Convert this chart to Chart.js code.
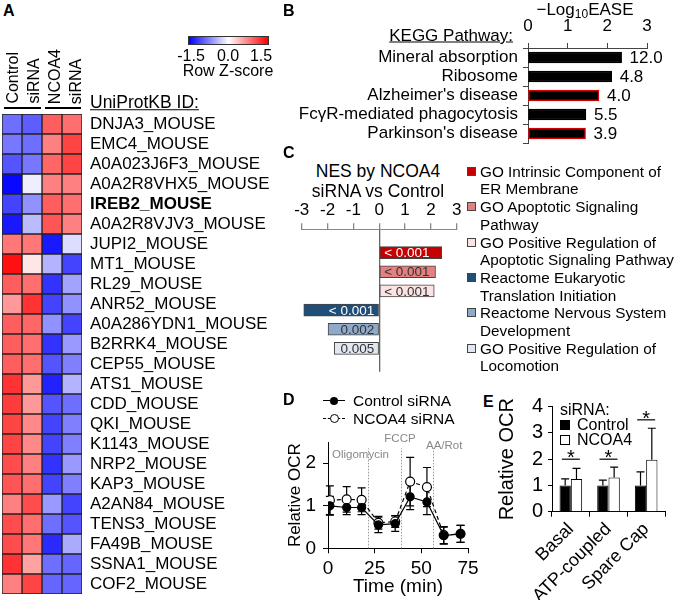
<!DOCTYPE html>
<html>
<head>
<meta charset="utf-8">
<script src="https://cdn.jsdelivr.net/npm/chart.js@4.4.0/dist/chart.umd.min.js"></script>
<style>
    html, body { margin: 0; padding: 0; background: #fff; }
    #fig { position: relative; width: 677px; height: 600px; overflow: hidden; font-family: 'Liberation Sans', Arial, sans-serif; color: #000; }
    #fig canvas { position: absolute; }
    .lbl { position: absolute; white-space: nowrap; line-height: 1; }
    .vert { position: absolute; writing-mode: vertical-rl; transform: rotate(180deg); white-space: nowrap; font-size: 16px; line-height: 21px; }
    .panel { font-weight: bold; font-size: 16px; }
    .line { position: absolute; background: #000; }
    .sq { position: absolute; width: 9px; height: 9px; border: 1px solid #444; box-sizing: border-box; }
</style>
</head>
<body>
<div id="fig">
    <canvas id="heat" width="280" height="500" style="left:0;top:100px"></canvas>
    <canvas id="kegg" width="387" height="150" style="left:290px;top:0"></canvas>
    <canvas id="nes" width="180" height="185" style="left:285px;top:195px"></canvas>
    <canvas id="ocr" width="195" height="175" style="left:285px;top:425px"></canvas>
    <canvas id="param" width="182" height="205" style="left:495px;top:395px"></canvas>
</div>
<script>
// ---- A: heatmap (row z-scores) ----
var proteins = ['DNJA3_MOUSE', 'EMC4_MOUSE', 'A0A023J6F3_MOUSE', 'A0A2R8VHX5_MOUSE', 'IREB2_MOUSE', 'A0A2R8VJV3_MOUSE',
    'JUPI2_MOUSE', 'MT1_MOUSE', 'RL29_MOUSE', 'ANR52_MOUSE', 'A0A286YDN1_MOUSE', 'B2RRK4_MOUSE', 'CEP55_MOUSE',
    'ATS1_MOUSE', 'CDD_MOUSE', 'QKI_MOUSE', 'K1143_MOUSE', 'NRP2_MOUSE', 'KAP3_MOUSE', 'A2AN84_MOUSE',
    'TENS3_MOUSE', 'FA49B_MOUSE', 'SSNA1_MOUSE', 'COF2_MOUSE'];
var zControlA = [-0.85, -0.8, -1.0, -1.45, -1.1, -1.35, 0.8, 1.4, 0.95, 0.6, 0.95, 0.95, 0.95, 1.2, 1.15, 1.1, 1.1, 1.05, 1.0, 0.75, 1.05, 1.05, 1.2, 0.75];
var zControlB = [-0.95, -0.85, -0.8, -0.1, -0.65, -0.4, 0.8, 0.15, 0.85, 1.2, 0.9, 0.85, 0.85, 0.6, 0.6, 0.7, 0.7, 0.75, 0.85, 1.05, 0.85, 0.8, 0.55, 1.1];
var zNcoa4A = [0.95, 0.75, 0.9, 0.75, 0.95, 1.0, -1.35, -0.45, -1.2, -1.1, -0.65, -1.2, -1.0, -1.3, -1.0, -1.1, -1.1, -1.2, -1.1, -0.6, -0.85, -1.25, -0.85, -0.9];
var zNcoa4B = [0.85, 1.1, 1.1, 0.75, 0.85, 0.75, -0.2, -1.1, -0.55, -0.65, -1.1, -0.6, -0.75, -0.45, -0.85, -0.75, -0.75, -0.6, -0.75, -1.1, -1.0, -0.5, -0.9, -0.9];
var boldProtein = 'IREB2_MOUSE';

// ---- B: KEGG pathways ----
var keggPathways = ['Mineral absorption', 'Ribosome', "Alzheimer's disease", 'FcγR-mediated phagocytosis', "Parkinson's disease"];
var keggLogEase = [2.36, 2.11, 1.79, 1.46, 1.45];
var keggFold = [12.0, 4.8, 4.0, 5.5, 3.9];
var keggOutlined = [false, false, true, false, true];

// ---- C: GSEA NES ----
var nesSetLines = [['GO Intrinsic Component of', 'ER Membrane'], ['GO Apoptotic Signaling', 'Pathway'],
    ['GO Positive Regulation of', 'Apoptotic Signaling Pathway'], ['Reactome Eukaryotic', 'Translation Initiation'],
    ['Reactome Nervous System', 'Development'], ['GO Positive Regulation of', 'Locomotion']];
var nesValues = [2.42, 2.18, 2.13, -2.92, -1.98, -1.74];
var nesFdr = ['< 0.001', '< 0.001', '< 0.001', '< 0.001', '0.002', '0.005'];
var nesColors = ['#c40000', '#e38080', '#fbe3e3', '#1f4e79', '#8fa9c9', '#e1e7f0'];
var nesTextColors = ['#fff', '#333', '#333', '#fff', '#333', '#333'];

// ---- D: OCR time course ----
var ocrTimes = [1, 10, 18, 27, 36, 44, 53, 62, 71];
var ocrControl = [1.0, 0.96, 0.96, 0.55, 0.58, 1.21, 1.09, 0.3, 0.34];
var ocrControlSd = [0.22, 0.17, 0.17, 0.18, 0.18, 0.3, 0.3, 0.2, 0.2];
var ocrNcoa4 = [1.13, 1.15, 1.14, 0.6, 0.63, 1.57, 1.44, 0.31, 0.34];
var ocrNcoa4Sd = [0.34, 0.3, 0.28, 0.15, 0.14, 0.57, 0.46, 0.2, 0.2];
var ocrYTicks = [0, 1, 2];
var injectTimes = [21.5, 39, 56.5];
var injectTop = 2.35;

// ---- E: OCR parameters ----
var ocrParams = ['Basal', 'ATP-coupled', 'Spare Cap'];
var paramControl = [1, 1, 1];
var paramControlSd = [0.25, 0.2, 0.52];
var paramNcoa4 = [1.25, 1.3, 1.98];
var paramNcoa4Sd = [0.4, 0.4, 1.2];
var sigLevel = [2.0, 2.0, 3.5];

Chart.defaults.font.family = "'Liberation Sans', Arial, sans-serif";
Chart.defaults.color = '#000';
Chart.defaults.animation = false;
Chart.defaults.responsive = false;
Chart.defaults.devicePixelRatio = 1;
Chart.defaults.plugins.legend.display = false;
Chart.defaults.plugins.tooltip.enabled = false;

// Fix an axis' thickness so the plot areas line up with the figure.
function fitAxis(size) {
    return function (scale) {
        if (scale.isHorizontal()) scale.height = size; else scale.width = size;
        scale.paddingTop = scale.paddingBottom = scale.paddingLeft = scale.paddingRight = 0;
    };
}

function zColor(z) {
    var t = Math.min(1, Math.abs(z) / 1.5);
    var c = Math.round(255 * (1 - t));
    return z < 0 ? `rgb(${c},${c},255)` : `rgb(255,${c},${c})`;
}

var fig = document.getElementById('fig');
function txt(html, x, y, o) {
    o = o || {};
    var d = document.createElement('div');
    d.className = 'lbl' + (o.cls ? ' ' + o.cls : '');
    d.innerHTML = html;
    d.style.left = x + 'px';
    d.style.top = y + 'px';
    if (!o.cls) d.style.fontSize = (o.size || 17) + 'px';
    if (o.color) d.style.color = o.color;
    if (o.underline) d.style.textDecoration = 'underline';
    var ax = o.align === 'right' ? '-100%' : o.align === 'center' ? '-50%' : '0';
    d.style.transform = `translate(${ax}, -50%)`;
    fig.appendChild(d);
    return d;
}
function box(cls, x, y, w, h, extra) {
    var d = document.createElement('div');
    d.className = cls;
    d.style.left = x + 'px';
    d.style.top = y + 'px';
    if (w != null) d.style.width = w + 'px';
    if (h != null) d.style.height = h + 'px';
    if (extra) Object.assign(d.style, extra);
    fig.appendChild(d);
    return d;
}

// Panel letters
txt('A', 3, 11, { cls: 'panel' });
txt('B', 283, 11, { cls: 'panel' });
txt('C', 283, 153, { cls: 'panel' });
txt('D', 283, 400, { cls: 'panel' });
txt('E', 483, 402, { cls: 'panel' });

// ---- A ----
var headers = ['Control<br>siRNA', 'NCOA4<br>siRNA'];
[2, 44].forEach(function (x, i) {
    var d = document.createElement('div');
    d.className = 'vert';
    d.innerHTML = headers[i];
    d.style.left = x + 'px';
    d.style.bottom = (600 - 104) + 'px';
    fig.appendChild(d);
});
box('line', 4, 107, 37, 1.5);
box('line', 45, 107, 36, 1.5);
box('line', 188, 36, 81, 9, { background: 'linear-gradient(to right, #0000ff, #ffffff, #ff0000)', border: '1px solid #333', boxSizing: 'border-box' });
txt('-1.5', 191, 56, { align: 'center', size: 16 });
txt('0.0', 228, 56, { align: 'center', size: 16 });
txt('1.5', 261, 56, { align: 'center', size: 16 });
txt('Row Z-score', 228, 71, { align: 'center', size: 16 });
txt('UniProtKB ID:', 90, 103, { size: 17.5, underline: true });

new Chart(document.getElementById('heat'), {
    type: 'bar',
    data: {
        labels: proteins,
        datasets: [zControlA, zControlB, zNcoa4A, zNcoa4B].map(function (z) {
            return {
                data: z.map(function () { return 1; }),
                backgroundColor: z.map(zColor),
                borderColor: '#222',
                borderWidth: 1,
                borderSkipped: false,
                barPercentage: 1,
                categoryPercentage: 1
            };
        })
    },
    options: {
        indexAxis: 'y',
        layout: { padding: { left: 2, top: 14, bottom: 6, right: 0 } },
        scales: {
            x: { stacked: true, display: false, min: 0, max: 4 },
            y: {
                stacked: true,
                position: 'right',
                grid: { display: false, drawTicks: false },
                border: { display: false },
                ticks: {
                    autoSkip: false,
                    padding: 8,
                    color: '#000',
                    font: function (c) {
                        return { size: 17, weight: proteins[c.index] === boldProtein ? 'bold' : 'normal' };
                    }
                },
                afterFit: fitAxis(198)
            }
        }
    }
});

// ---- B ----
txt('&minus;Log<sub style="font-size:12px;vertical-align:-3px">10</sub>EASE', 585, 10, { align: 'center', size: 17 });
txt('KEGG Pathway:', 513, 35, { align: 'right', size: 17, underline: true });

new Chart(document.getElementById('kegg'), {
    type: 'bar',
    data: {
        labels: keggPathways,
        datasets: [{
            data: keggLogEase,
            backgroundColor: '#000',
            borderColor: keggOutlined.map(function (o) { return o ? '#d40000' : '#000'; }),
            borderWidth: 1.5,
            borderSkipped: false,
            barThickness: 11
        }]
    },
    options: {
        indexAxis: 'y',
        layout: { padding: { top: 0, right: 30, bottom: 7, left: 0 } },
        scales: {
            x: {
                position: 'top', min: 0, max: 3,
                ticks: { stepSize: 1, padding: 6, font: { size: 17 } },
                grid: { drawOnChartArea: false, tickLength: 5, color: '#444' },
                border: { color: '#444' },
                afterFit: fitAxis(48)
            },
            y: {
                ticks: { padding: 5, font: { size: 17 }, autoSkip: false },
                grid: { drawOnChartArea: false, tickLength: 5, color: '#444' },
                border: { color: '#444' },
                afterFit: fitAxis(238)
            }
        }
    },
    plugins: [{
        id: 'foldLabels',
        afterDatasetsDraw: function (chart) {
            var ctx = chart.ctx;
            ctx.save();
            ctx.font = "17px 'Liberation Sans', Arial, sans-serif";
            ctx.fillStyle = '#000';
            ctx.textBaseline = 'middle';
            chart.getDatasetMeta(0).data.forEach(function (bar, i) {
                ctx.fillText(keggFold[i].toFixed(1), bar.x + 8, bar.y + 1);
            });
            ctx.restore();
        }
    }]
});

// ---- C ----
txt('NES by NCOA4', 378, 172, { align: 'center', size: 17.5 });
txt('siRNA vs Control', 378, 192, { align: 'center', size: 17.5 });
nesSetLines.forEach(function (lines, i) {
    var y = 171.7 + i * 2 * 17.7;
    box('sq', 467, y - 5, null, null, { background: nesColors[i] });
    txt(lines[0], 480, y, { size: 15.3 });
    txt(lines[1], 480, y + 17.7, { size: 15.3 });
});

new Chart(document.getElementById('nes'), {
    type: 'bar',
    data: {
        datasets: [{
            data: nesValues.map(function (v, i) { return { x: v, y: i }; }),
            backgroundColor: nesColors,
            borderColor: '#444',
            borderWidth: 1,
            borderSkipped: false,
            barThickness: 12
        }]
    },
    options: {
        indexAxis: 'y',
        layout: { padding: { top: 0, right: 8.3, bottom: 8.3, left: 16.7 } },
        scales: {
            x: {
                position: 'top', min: -3, max: 3,
                ticks: { stepSize: 1, padding: 3, font: { size: 17 } },
                grid: {
                    drawOnChartArea: true, tickLength: 6, tickColor: '#888', lineWidth: 1.3,
                    color: function (c) { return c.tick && c.tick.value === 0 ? '#666' : 'rgba(0,0,0,0)'; }
                },
                border: { color: '#888' },
                afterFit: fitAxis(34.3)
            },
            y: { type: 'linear', reverse: true, min: -0.75, max: 5.75, display: false }
        }
    },
    plugins: [{
        id: 'fdrLabels',
        afterDatasetsDraw: function (chart) {
            var ctx = chart.ctx;
            var zero = chart.scales.x.getPixelForValue(0);
            ctx.save();
            ctx.font = "13.5px 'Liberation Sans', Arial, sans-serif";
            ctx.textBaseline = 'middle';
            chart.getDatasetMeta(0).data.forEach(function (bar, i) {
                ctx.fillStyle = nesTextColors[i];
                if (nesValues[i] >= 0) {
                    ctx.textAlign = 'left';
                    ctx.fillText(nesFdr[i], zero + 5, bar.y + 1);
                } else {
                    ctx.textAlign = 'right';
                    ctx.fillText(nesFdr[i], zero - 5, bar.y + 1);
                }
            });
            ctx.restore();
        }
    }]
});

// ---- D ----
box('line', 323, 400, 22, 1.2);
box('line', 330, 397, 8, 8, { borderRadius: '50%' });
txt('Control siRNA', 353, 401, { size: 15.5 });
box('line', 323, 418, 22, 0, { background: 'none', borderTop: '1.2px dashed #000' });
box('line', 329.5, 414, 9, 9, { borderRadius: '50%', background: '#fff', border: '1.2px solid #000', boxSizing: 'border-box' });
txt('NCOA4 siRNA', 353, 419, { size: 15.5 });
txt('Oligomycin', 332, 455, { size: 11.5, color: '#888' });
txt('FCCP', 400, 439, { size: 11.5, color: '#888', align: 'center' });
txt('AA/Rot', 426, 446, { size: 11.5, color: '#888' });

function drawErrorBars(ctx, xs, yScale, means, sds, bothSides, half) {
    ctx.beginPath();
    means.forEach(function (m, i) {
        var top = yScale.getPixelForValue(m + sds[i]);
        var bot = yScale.getPixelForValue(bothSides ? m - sds[i] : m);
        ctx.moveTo(xs[i], top); ctx.lineTo(xs[i], bot);
        ctx.moveTo(xs[i] - half, top); ctx.lineTo(xs[i] + half, top);
        if (bothSides) { ctx.moveTo(xs[i] - half, bot); ctx.lineTo(xs[i] + half, bot); }
    });
    ctx.stroke();
}

new Chart(document.getElementById('ocr'), {
    type: 'line',
    data: {
        datasets: [{
            data: ocrTimes.map(function (t, i) { return { x: t, y: ocrControl[i] }; }),
            borderColor: '#000', borderWidth: 1.2,
            pointRadius: 4, pointBackgroundColor: '#000', pointBorderColor: '#000'
        }, {
            data: ocrTimes.map(function (t, i) { return { x: t, y: ocrNcoa4[i] }; }),
            borderColor: '#000', borderWidth: 1.2, borderDash: [4, 3],
            pointRadius: 4.5, pointBackgroundColor: '#fff', pointBorderColor: '#000', pointBorderWidth: 1.2
        }]
    },
    options: {
        layout: { padding: { top: 17, right: 12, bottom: 0, left: 0 } },
        scales: {
            x: {
                type: 'linear', min: 0, max: 75,
                ticks: { stepSize: 25, padding: 4, font: { size: 19 } },
                grid: { drawOnChartArea: false, tickLength: 5, color: '#000' },
                border: { color: '#000' },
                title: { display: true, text: 'Time (min)', font: { size: 19 }, padding: { top: 0, bottom: 2 } },
                afterFit: fitAxis(51.7)
            },
            y: {
                min: 0, max: 2.5,
                afterBuildTicks: function (s) { s.ticks = ocrYTicks.map(function (v) { return { value: v }; }); },
                ticks: { padding: 7, font: { size: 19 } },
                grid: { drawOnChartArea: false, tickLength: 5, color: '#000' },
                border: { color: '#000' },
                title: { display: true, text: 'Relative OCR', font: { size: 17 }, padding: 0 },
                afterFit: fitAxis(43)
            }
        }
    },
    plugins: [{
        id: 'ocrExtras',
        beforeDatasetsDraw: function (chart) {
            var ctx = chart.ctx, x = chart.scales.x, y = chart.scales.y;
            ctx.save();
            ctx.strokeStyle = '#999';
            ctx.lineWidth = 1;
            ctx.setLineDash([1.5, 1.5]);
            injectTimes.forEach(function (t) {
                var px = Math.round(x.getPixelForValue(t)) + 0.5;
                ctx.beginPath();
                ctx.moveTo(px, y.getPixelForValue(0));
                ctx.lineTo(px, y.getPixelForValue(injectTop));
                ctx.stroke();
            });
            ctx.setLineDash([]);
            ctx.strokeStyle = '#000';
            ctx.lineWidth = 1.2;
            var xs = ocrTimes.map(function (t) { return x.getPixelForValue(t); });
            drawErrorBars(ctx, xs, y, ocrNcoa4, ocrNcoa4Sd, true, 4);
            drawErrorBars(ctx, xs, y, ocrControl, ocrControlSd, true, 4);
            ctx.restore();
        }
    }]
});

// ---- E ----
txt('siRNA:', 560, 410, { size: 16 });
box('sq', 560, 420, 10, 10, { background: '#000', border: '1px solid #000' });
txt('Control', 577, 425, { size: 16 });
box('sq', 560, 435, 10, 10, { background: '#fff', border: '1px solid #000' });
txt('NCOA4', 577, 440, { size: 16 });

new Chart(document.getElementById('param'), {
    type: 'bar',
    data: {
        labels: ocrParams,
        datasets: [{
            data: paramControl, backgroundColor: '#000', borderColor: '#000', borderWidth: 1,
            categoryPercentage: 0.6, barPercentage: 1
        }, {
            data: paramNcoa4, backgroundColor: '#fff', borderColor: '#000', borderWidth: 1,
            categoryPercentage: 0.6, barPercentage: 1
        }]
    },
    options: {
        layout: { padding: { top: 11.7, right: 12, bottom: 0, left: 0 } },
        scales: {
            x: {
                ticks: { minRotation: 45, maxRotation: 45, padding: 2, font: { size: 18 } },
                grid: { drawOnChartArea: false, tickLength: 5, color: '#000' },
                border: { color: '#000' },
                afterFit: fitAxis(88.3)
            },
            y: {
                min: 0, max: 4,
                ticks: { stepSize: 1, autoSkip: false, padding: 5, font: { size: 20 } },
                grid: { drawOnChartArea: false, tickLength: 4, color: '#000' },
                border: { color: '#000' },
                title: { display: true, text: 'Relative OCR', font: { size: 20 }, padding: 0 },
                afterFit: fitAxis(57)
            }
        }
    },
    plugins: [{
        id: 'paramExtras',
        afterDatasetsDraw: function (chart) {
            var ctx = chart.ctx, x = chart.scales.x, y = chart.scales.y;
            ctx.save();
            ctx.strokeStyle = '#000';
            ctx.lineWidth = 1.2;
            var xc = chart.getDatasetMeta(0).data.map(function (b) { return b.x; });
            var xn = chart.getDatasetMeta(1).data.map(function (b) { return b.x; });
            drawErrorBars(ctx, xc, y, paramControl, paramControlSd, false, 4);
            drawErrorBars(ctx, xn, y, paramNcoa4, paramNcoa4Sd, false, 4);
            ctx.font = "20px 'Liberation Sans', Arial, sans-serif";
            ctx.textAlign = 'center';
            ctx.fillStyle = '#000';
            sigLevel.forEach(function (s, i) {
                var cx = x.getPixelForValue(i), py = y.getPixelForValue(s);
                ctx.beginPath();
                ctx.moveTo(cx - 9, py); ctx.lineTo(cx + 9, py);
                ctx.stroke();
                ctx.fillText('*', cx, py + 5);
            });
            ctx.restore();
        }
    }]
});
</script>
</body>
</html>
